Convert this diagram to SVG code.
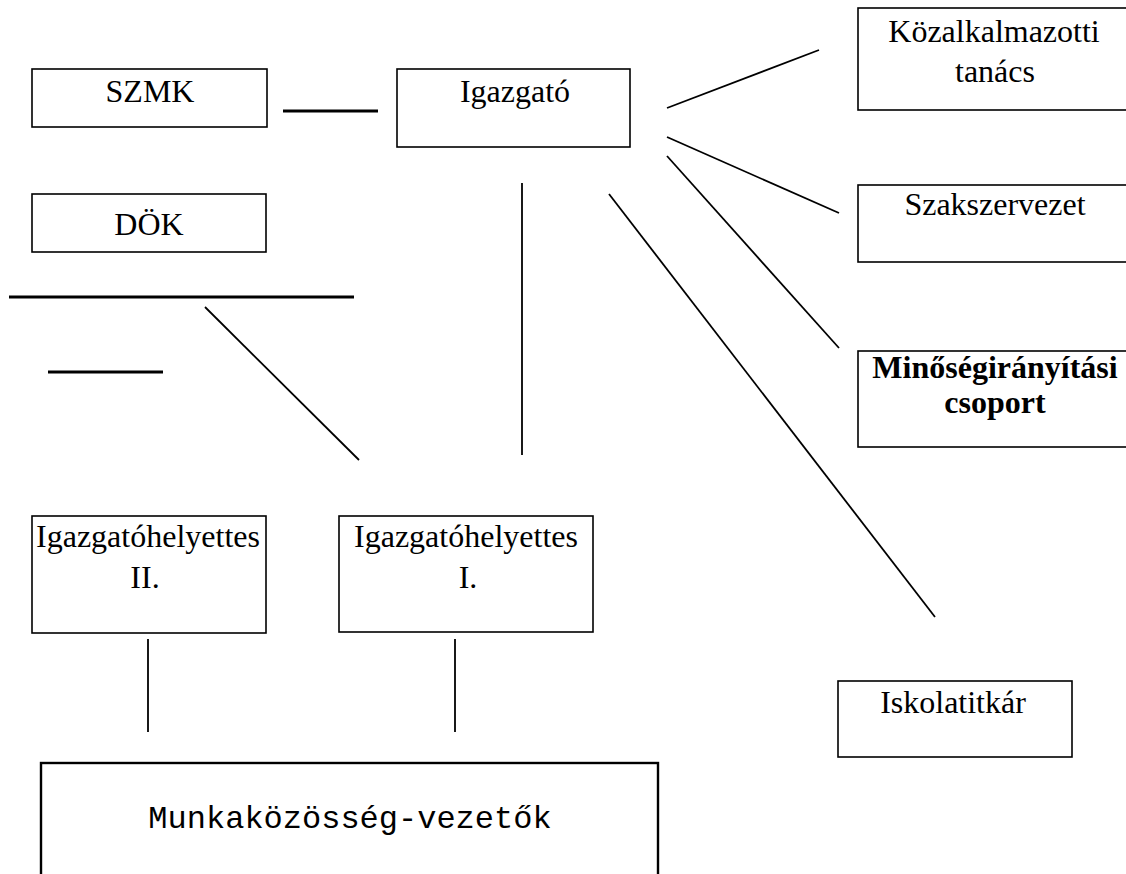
<svg xmlns="http://www.w3.org/2000/svg" width="1126" height="874" viewBox="0 0 1126 874">
<style>
.box{fill:#fff;stroke:#000;stroke-width:1.6}
.t{font-family:"Liberation Serif","Times New Roman",serif;font-size:32px;fill:#000;text-anchor:middle}
.b{font-weight:bold}
.m{font-family:"Liberation Mono","Courier New",monospace;font-size:32px;fill:#000;text-anchor:middle}
.c{stroke:#000;fill:none;stroke-width:1.8}
.k{stroke:#000;fill:none;stroke-width:3}
</style>
<rect width="1126" height="874" fill="#fff"/>
<g id="connectors">
<line class="k" x1="283" y1="111" x2="378" y2="111"/>
<line class="k" x1="9" y1="297" x2="354" y2="297"/>
<line class="k" x1="48" y1="372" x2="163" y2="372"/>
<line class="c" x1="205" y1="307" x2="359" y2="460"/>
<line class="c" x1="522" y1="183" x2="522" y2="455"/>
<line class="c" x1="667" y1="108" x2="819" y2="50"/>
<line class="c" x1="667" y1="137" x2="839" y2="213"/>
<line class="c" x1="667" y1="156" x2="839" y2="348"/>
<line class="c" x1="609" y1="194" x2="935" y2="617"/>
<line class="c" x1="148" y1="639" x2="148" y2="732"/>
<line class="c" x1="455" y1="639" x2="455" y2="732"/>
</g>
<g id="szmk"><rect class="box" x="32" y="69" width="235" height="58"/><text class="t" x="150" y="102">SZMK</text></g>
<g id="dok"><rect class="box" x="32" y="194" width="234" height="58"/><text class="t" x="149" y="235">DÖK</text></g>
<g id="igazgato"><rect class="box" x="397" y="69" width="233" height="78"/><text class="t" x="515" y="102">Igazgató</text></g>
<g id="kozalkalmazotti"><rect class="box" x="858" y="8" width="290" height="102"/><text class="t" x="994" y="42">Közalkalmazotti</text><text class="t" x="995" y="82">tanács</text></g>
<g id="szakszervezet"><rect class="box" x="858" y="185" width="290" height="77"/><text class="t" x="995" y="215">Szakszervezet</text></g>
<g id="minoseg"><rect class="box" x="858" y="351" width="290" height="96"/><text class="t b" x="995" y="378">Minőségirányítási</text><text class="t b" x="995" y="413">csoport</text></g>
<g id="iskolatitkar"><rect class="box" x="838" y="681" width="234" height="76"/><text class="t" x="953" y="713">Iskolatitkár</text></g>
<g id="igh2"><rect class="box" x="32" y="516" width="234" height="117"/><text class="t" x="148" y="547">Igazgatóhelyettes</text><text class="t" x="145" y="588">II.</text></g>
<g id="igh1"><rect class="box" x="339" y="516" width="254" height="116"/><text class="t" x="466" y="547">Igazgatóhelyettes</text><text class="t" x="468" y="588">I.</text></g>
<g id="munkakozosseg"><rect class="box" x="41" y="763" width="617" height="130" style="stroke-width:2.4"/><text class="m" x="350" y="828">Munkaközösség-vezetők</text></g>
</svg>
